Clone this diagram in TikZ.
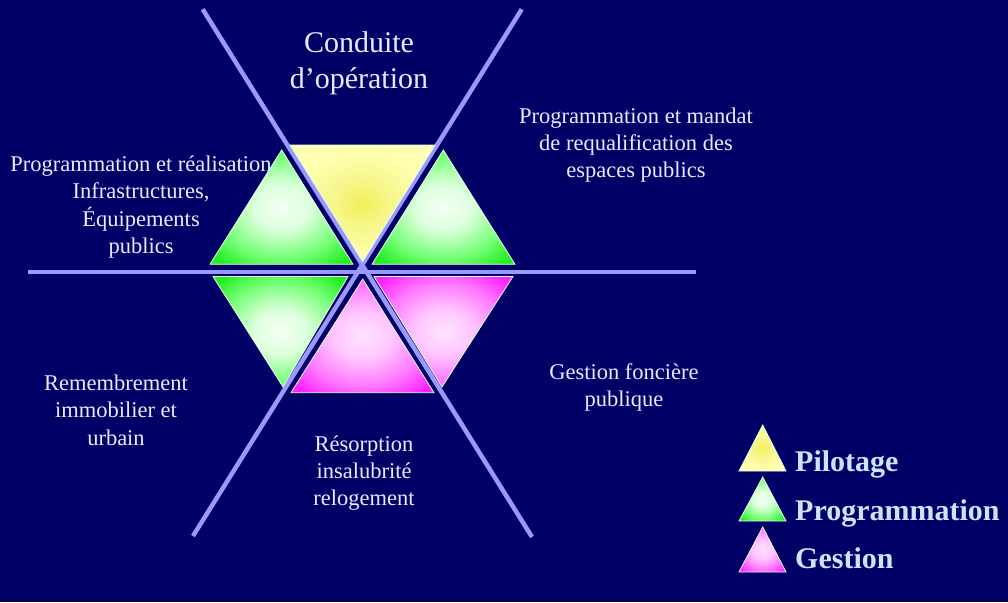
\documentclass[tikz,border=0pt]{standalone}
\usepackage{fontspec}
\setmainfont{Liberation Serif}
\definecolor{bg}{HTML}{000066}
\definecolor{axis}{HTML}{9999FF}
\definecolor{txt}{HTML}{E2EEFF}
\definecolor{legtxt}{HTML}{CCE5FF}
\definecolor{gA}{HTML}{F4FFF4}
\definecolor{gB}{HTML}{DCFFDC}
\definecolor{gC}{HTML}{78FF78}
\definecolor{gD}{HTML}{22EE22}
\definecolor{mA}{HTML}{FFE2FF}
\definecolor{mB}{HTML}{FFC8FF}
\definecolor{mC}{HTML}{FF78FF}
\definecolor{mD}{HTML}{FF22FF}
\definecolor{yA}{HTML}{F0F058}
\definecolor{yB}{HTML}{F6F68C}
\definecolor{yC}{HTML}{FFFFAE}
\definecolor{yD}{HTML}{FFFFB8}
\pgfdeclareradialshading{greensh}{\pgfpoint{0bp}{0bp}}{color(0bp)=(gA); color(10bp)=(gB); color(22bp)=(gC); color(32bp)=(gD); color(80bp)=(gD)}
\pgfdeclareradialshading{magsh}{\pgfpoint{0bp}{0bp}}{color(0bp)=(mA); color(10bp)=(mB); color(22bp)=(mC); color(32bp)=(mD); color(80bp)=(mD)}
\pgfdeclareradialshading{yelsh}{\pgfpoint{0bp}{0bp}}{color(0bp)=(yA); color(10bp)=(yB); color(22bp)=(yC); color(32bp)=(yD); color(80bp)=(yD)}
\tikzset{
  axisline/.style={draw=axis, line width=4.5pt},
  tri/.style={draw=white!90!green, line width=0.8pt},
  lbl/.style={text=txt, align=center, inner sep=0pt, font=\fontsize{22.5}{27.3}\selectfont},
  ttl/.style={text=txt, align=center, inner sep=0pt, font=\fontsize{30}{36}\selectfont},
  leg/.style={text=legtxt, inner sep=0pt, anchor=base west, font=\fontsize{30}{36}\selectfont\bfseries}
}
\begin{document}
\begin{tikzpicture}[x=1pt,y=-1pt]
\fill[bg] (0,0) rectangle (1008,602);
\useasboundingbox (0,0) rectangle (1008,602);
% axes
\draw[axisline] (202.7,9.3) -- (532,537);
\draw[axisline] (521.7,9.3) -- (193,536);
\draw[axisline] (28.3,272) -- (696,272);
% hexagon triangles
\shade[shading=greensh,tri] (281.7,150) -- (353,264.3) -- (210,264.3) -- cycle;
\shade[shading=yelsh,tri] (290,145) -- (435,145) -- (362.7,261.5) -- cycle;
\shade[shading=greensh,tri] (443.3,150) -- (515,264.3) -- (372,264.3) -- cycle;
\shade[shading=greensh,tri] (213,276.5) -- (348,276.5) -- (283,387) -- cycle;
\shade[shading=magsh,tri] (362.7,279) -- (434,392.7) -- (291,392.7) -- cycle;
\shade[shading=magsh,tri] (374,276.5) -- (513,276.5) -- (442,387) -- cycle;
% labels
\node[ttl] (conduite) at (359,63) {Conduite\\d’opération};
\node[lbl] (mandat) at (636,145) {Programmation et mandat\\de requalification des\\espaces publics};
\node[lbl] (realisation) at (141,207) {Programmation et réalisation\\Infrastructures,\\Équipements\\publics};
\node[lbl] (remembrement) at (116,410) {Remembrement\\immobilier et\\urbain};
\node[lbl] (fonciere) at (624,387.5) {Gestion foncière\\publique};
\node[lbl] (resorption) at (364,473) {Résorption\\insalubrité\\relogement};
% legend
\shade[shading=yelsh,tri] (762.7,425) -- (786,471) -- (739,471) -- cycle;
\shade[shading=greensh,tri] (762.7,477) -- (786,521) -- (739,521) -- cycle;
\shade[shading=magsh,tri] (762.7,527) -- (786,572) -- (739,572) -- cycle;
\node[leg] (pilotage) at (795,471) {Pilotage};
\node[leg] (programmation) at (795,520) {Programmation};
\node[leg] (gestion) at (795,568) {Gestion};
\end{tikzpicture}
\end{document}
